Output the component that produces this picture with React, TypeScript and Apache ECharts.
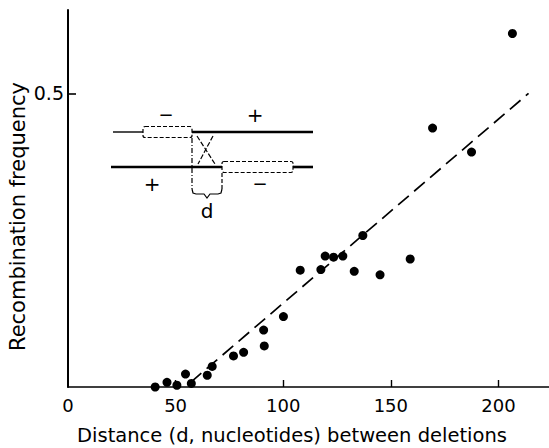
import React, { useEffect, useRef } from "react";
import * as echarts from "echarts";

// ---- data ----
const distance = [40.5, 46, 50.6, 54.6, 57.3, 64.7, 67, 76.9, 81.6, 90.9, 91.2, 100.1, 107.9, 117.5, 119.5, 123.4, 127.7, 133, 137, 145, 159, 169.4, 187.5, 206.5];
const frequency = [0.0, 0.008, 0.003, 0.022, 0.006, 0.02, 0.035, 0.053, 0.059, 0.097, 0.07, 0.12, 0.199, 0.2, 0.223, 0.221, 0.223, 0.197, 0.258, 0.191, 0.218, 0.441, 0.4, 0.602];
const fitX = [57, 214];
const fitY = [0.008, 0.5];
const xTickValues = [50, 100, 150, 200];
const xLabelValues = [0, 50, 100, 150, 200];
const yTickValues = [0.5];
const yLabelValues = [0.5];

const FONT = "DejaVu Sans";

export default function App() {
  const ref = useRef<HTMLDivElement>(null);
  useEffect(() => {
    if (!ref.current) return;
    const chart = echarts.init(ref.current, null, { renderer: "svg" });
    const thin = { stroke: "#000", lineWidth: 1.4, fill: "none" };
    const thick = { stroke: "#000", lineWidth: 2.6, fill: "none" };
    const dashed = { stroke: "#000", lineWidth: 1.2, fill: "none", lineDash: [4, 2] };
    const txt = (x: number, y: number, text: string, size: number) => ({
      type: "text",
      x,
      y,
      style: { text, fill: "#000", font: `${size}px ${FONT}`, align: "center", verticalAlign: "middle" },
    });
    chart.setOption({
      animation: false,
      backgroundColor: "#fff",
      grid: { left: 68, top: 10, right: 0, bottom: 61, containLabel: false },
      xAxis: {
        type: "value",
        min: 0,
        max: 223.5,
        interval: 50,
        splitLine: { show: false },
        axisLine: { lineStyle: { color: "#000", width: 1.6 } },
        axisTick: { inside: true, length: 7, customValues: xTickValues, lineStyle: { color: "#000", width: 1.4 } },
        axisLabel: { customValues: xLabelValues, color: "#000", fontFamily: FONT, fontSize: 18, margin: 9 },
      },
      yAxis: {
        type: "value",
        min: 0,
        max: 0.642,
        interval: 0.5,
        splitLine: { show: false },
        axisLine: { show: true, lineStyle: { color: "#000", width: 2 } },
        axisTick: { show: true, inside: true, length: 8, customValues: yTickValues, lineStyle: { color: "#000", width: 1.6 } },
        axisLabel: { customValues: yLabelValues, color: "#000", fontFamily: FONT, fontSize: 19, margin: 4 },
      },
      series: [
        {
          type: "line",
          data: fitX.map((x, i) => [x, fitY[i]]),
          showSymbol: false,
          symbol: "none",
          lineStyle: { color: "#000", width: 1.7, type: [14, 7] },
          z: 2,
        },
        {
          type: "scatter",
          data: distance.map((x, i) => [x, frequency[i]]),
          symbol: "circle",
          symbolSize: 9,
          itemStyle: { color: "#000", opacity: 1 },
          clip: false,
          z: 3,
        },
      ],
      graphic: [
        // Y axis title
        {
          type: "text",
          x: 17.5,
          y: 216.5,
          rotation: Math.PI / 2,
          style: { text: "Recombination frequency", fill: "#000", font: `21px ${FONT}`, align: "center", verticalAlign: "middle" },
        },
        // X axis title
        {
          type: "text",
          x: 292,
          y: 435,
          style: { text: "Distance (d, nucleotides) between deletions", fill: "#000", font: `19.5px ${FONT}`, align: "center", verticalAlign: "middle" },
        },
        // inset diagram: top strand
        { type: "line", shape: { x1: 113, y1: 132, x2: 143, y2: 132 }, style: thin },
        { type: "rect", shape: { x: 143, y: 126.5, width: 49, height: 11, r: 2 }, style: dashed },
        { type: "line", shape: { x1: 192, y1: 132, x2: 313, y2: 132 }, style: thick },
        // bottom strand
        { type: "line", shape: { x1: 111, y1: 167, x2: 222, y2: 167 }, style: thick },
        { type: "rect", shape: { x: 222, y: 161.5, width: 71, height: 11, r: 2 }, style: dashed },
        { type: "line", shape: { x1: 293, y1: 167, x2: 313, y2: 167 }, style: thick },
        // vertical guides
        { type: "line", shape: { x1: 192, y1: 138, x2: 192, y2: 189 }, style: { ...dashed, lineDash: [5, 2, 1, 2] } },
        { type: "line", shape: { x1: 222, y1: 173, x2: 222, y2: 189 }, style: dashed },
        // crossover X
        { type: "line", shape: { x1: 197, y1: 136, x2: 215, y2: 164 }, style: { ...dashed, lineDash: [5, 2] } },
        { type: "line", shape: { x1: 213, y1: 136, x2: 198, y2: 164 }, style: { ...dashed, lineDash: [5, 2] } },
        // brace
        {
          type: "polyline",
          shape: { points: [[192, 189], [193, 193], [196, 194], [204, 194], [207, 198], [210, 194], [218, 194], [221, 193], [222, 189]] },
          style: { stroke: "#000", lineWidth: 1.2, fill: "none" },
        },
        txt(207, 211, "d", 20),
        txt(166, 114, "−", 18),
        txt(255, 115, "+", 20),
        txt(152, 184, "+", 20),
        txt(260, 183, "−", 18),
      ],
    });
    return () => chart.dispose();
  }, []);
  return <div ref={ref} style={{ position: "fixed", left: 0, top: 0, width: 549, height: 448 }} />;
}
